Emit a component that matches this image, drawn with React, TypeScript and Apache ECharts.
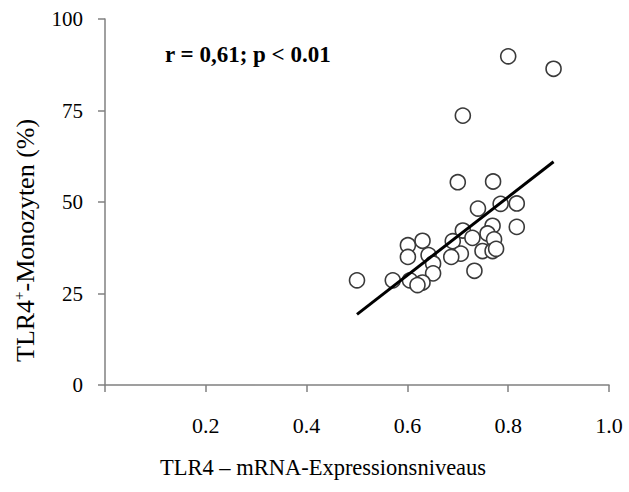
import React, { useEffect, useRef } from "react";
import * as echarts from "echarts";

const xTicks = [0.2, 0.4, 0.6, 0.8, 1.0];
const yTicks = [0, 25, 50, 75, 100];

const mrnaLevels = [
  0.80, 0.89, 0.71,
  0.70, 0.77,
  0.74, 0.785, 0.817,
  0.817, 0.769, 0.71, 0.729, 0.759, 0.772, 0.69,
  0.749, 0.769, 0.776, 0.706, 0.687, 0.733,
  0.601, 0.630, 0.601, 0.642, 0.651, 0.651, 0.63, 0.605, 0.62, 0.571, 0.50,
];
const monocytePct = [
  89.8, 86.4, 73.6,
  55.4, 55.6,
  48.2, 49.5, 49.6,
  43.2, 43.5, 42.2, 40.2, 41.4, 39.8, 39.3,
  36.6, 36.6, 37.2, 35.9, 35.0, 31.2,
  38.2, 39.4, 35.0, 35.5, 33.2, 30.5, 28.0, 28.6, 27.3, 28.6, 28.6,
];
const trendX = [0.5, 0.89];
const trendY = [19.3, 61.0];

const statText = "r = 0,61; p < 0.01";
const xName = "TLR4 – mRNA-Expressionsniveaus";

const FONT = "'Liberation Serif', 'Times New Roman', serif";

export default function App() {
  const ref = useRef<HTMLDivElement>(null);
  useEffect(() => {
    document.body.style.margin = "0";
    if (!ref.current) return;
    const chart = echarts.init(ref.current, undefined, { renderer: "svg" });
    const points = mrnaLevels.map((x, i) => [x, monocytePct[i]]);
    const line = trendX.map((x, i) => [x, trendY[i]]);
    chart.setOption({
      animation: false,
      backgroundColor: "#ffffff",
      grid: { left: 105, top: 19, right: 20, bottom: 107 },
      xAxis: {
        type: "value",
        min: 0,
        max: 1,
        interval: 0.2,
        splitLine: { show: false },
        axisLine: { lineStyle: { color: "#808080", width: 1.5 } },
        axisTick: { show: true, length: 7, lineStyle: { color: "#808080", width: 1.5 } },
        axisLabel: {
          margin: 29,
          fontFamily: FONT,
          fontSize: 22,
          color: "#000",
          formatter: (v: number) => {
            const t = xTicks.find((k) => Math.abs(k - v) < 1e-6);
            return t === undefined ? "" : t.toFixed(1);
          },
        },
      },
      yAxis: {
        type: "value",
        min: 0,
        max: 100,
        interval: 25,
        splitLine: { show: false },
        axisLine: { show: true, lineStyle: { color: "#808080", width: 1.5 } },
        axisTick: { show: true, length: 7, lineStyle: { color: "#808080", width: 1.5 } },
        axisLabel: {
          margin: 22,
          fontFamily: FONT,
          fontSize: 21,
          color: "#000",
          formatter: (v: number) => (yTicks.includes(v) ? String(v) : ""),
        },
      },
      graphic: [
        {
          type: "text",
          left: 165,
          top: 43,
          style: {
            text: statText,
            fontFamily: FONT,
            fontSize: 23,
            fontWeight: "bold",
            fill: "#000",
          },
        },
        {
          type: "text",
          x: 323,
          y: 467,
          style: {
            text: xName,
            fontFamily: FONT,
            fontSize: 22.5,
            fill: "#000",
            align: "center",
            verticalAlign: "middle",
          },
        },
        {
          type: "text",
          x: 11,
          y: 362,
          rotation: Math.PI / 2,
          style: {
            text: "{n|TLR4}{s|+}{n|-Monozyten (%)}",
            rich: {
              n: { fontFamily: FONT, fontSize: 26, fill: "#000" },
              s: { fontFamily: FONT, fontSize: 15, fill: "#000", padding: [0, 0, 13, 0] },
            },
            verticalAlign: "top",
          },
        },
      ],
      series: [
        {
          type: "line",
          data: line,
          symbol: "none",
          lineStyle: { color: "#000", width: 3 },
          z: 3,
        },
        {
          type: "scatter",
          data: points,
          symbol: "circle",
          symbolSize: 15,
          itemStyle: { color: "#ffffff", borderColor: "#3a3a3a", borderWidth: 1.6, opacity: 1 },
          z: 2,
        },
      ],
    });
    return () => chart.dispose();
  }, []);
  return <div ref={ref} style={{ width: 629, height: 492 }} />;
}
